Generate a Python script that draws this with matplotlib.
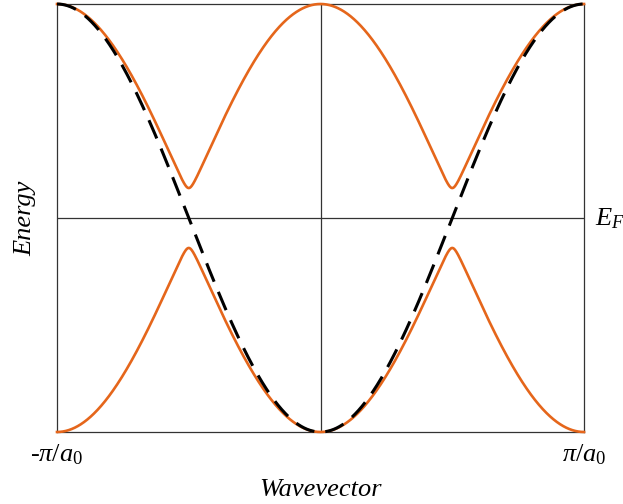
import numpy as np
from matplotlib import pyplot as plt

plt.rcParams['font.family'] = ['Liberation Serif', 'DejaVu Serif']
plt.rcParams['mathtext.fontset'] = 'custom'
plt.rcParams['mathtext.rm'] = 'Liberation Serif'
plt.rcParams['mathtext.it'] = 'Liberation Serif:italic'

# Band model parameters (energies in units of half bandwidth, k in units of pi/a0)
k_zone = [-1.0, 1.0]
band_top = 1.0
band_bottom = -1.0
gap_half = 0.14        # half gap opened at k = +-1/2
gap_rounding = 0.05    # softening of the band edge at the gap

tick_labels = [r'-$\pi/a_0$', r'$\pi/a_0$']

ORANGE = '#e5661b'
FRAME = '#333333'

k = np.linspace(k_zone[0], k_zone[1], 1601)

# free-electron-like cosine band (dashed)
free_band = -np.cos(np.pi * k)

# folded bands with a gap at the Fermi level
c = np.abs(np.cos(np.pi * k))
soft = (np.sqrt(c**2 + gap_rounding**2) - gap_rounding) / (np.sqrt(1 + gap_rounding**2) - gap_rounding)
upper_band = gap_half + (band_top - gap_half) * soft
lower_band = -gap_half + (band_bottom + gap_half) * soft

fig = plt.figure(figsize=(6.23, 5.04), dpi=100)
ax = fig.add_axes([57 / 623, 1 - 432 / 504, (584 - 57) / 623, (432 - 4) / 504])

ax.plot(k, upper_band, color=ORANGE, lw=1.9, clip_on=False, zorder=3)
ax.plot(k, lower_band, color=ORANGE, lw=1.9, clip_on=False, zorder=3)
ax.plot(k, free_band, color='black', lw=2.2, dashes=(6.5, 3.6), clip_on=False, zorder=4)

ax.axvline(0, color=FRAME, lw=0.9, zorder=1)
ax.axhline(0, color=FRAME, lw=0.9, zorder=1)

ax.set_xlim(k_zone)
ax.set_ylim(band_bottom, band_top)
for side in ax.spines.values():
    side.set_color(FRAME)
    side.set_linewidth(0.9)

ax.set_xticks([])
ax.set_yticks([])

ax.text(k_zone[0], -1.105, tick_labels[0], ha='center', va='center', fontsize=19, style='italic')
ax.text(k_zone[1], -1.105, tick_labels[1], ha='center', va='center', fontsize=19, style='italic')
ax.text(1.04, -0.005, r'$E_F$', ha='left', va='center', fontsize=19)
ax.text(0, -1.27, 'Wavevector', ha='center', va='center', fontsize=19, style='italic')
ax.text(-1.12, 0.0, 'Energy', ha='center', va='center', rotation=90, fontsize=19, style='italic')

fig.savefig('out.png', dpi=100)
